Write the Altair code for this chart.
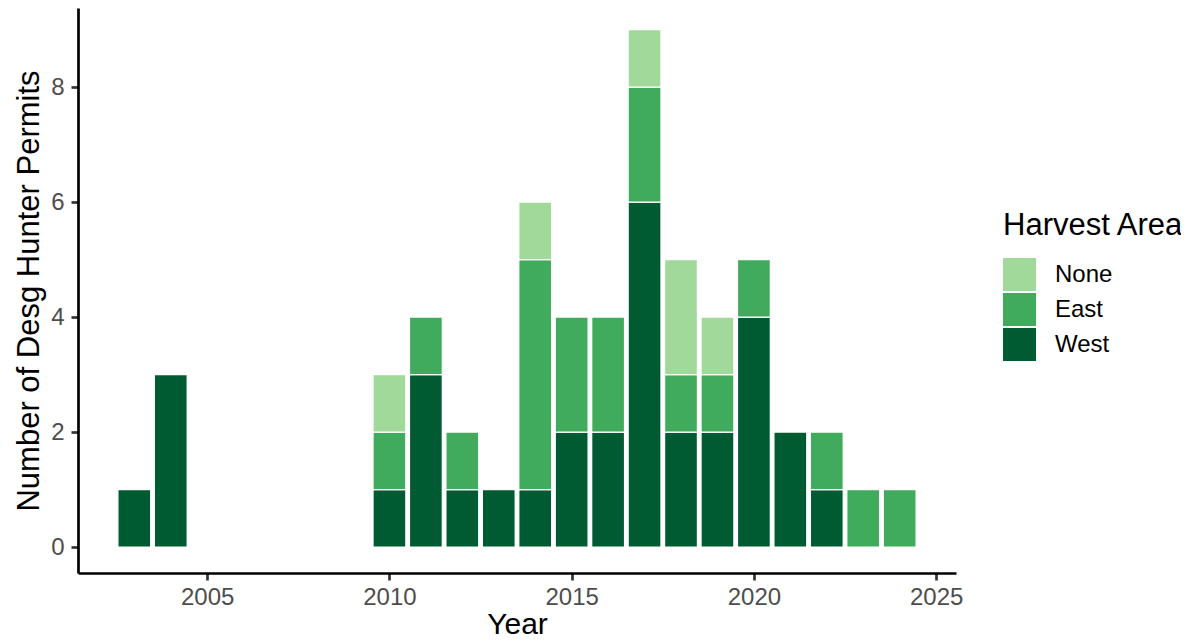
import altair as alt
import pandas as pd

years = [2003, 2004, 2010, 2011, 2012, 2013, 2014, 2015, 2016, 2017, 2018, 2019, 2020, 2021, 2022, 2023, 2024]
west  = [1, 3, 1, 3, 1, 1, 1, 2, 2, 6, 2, 2, 4, 2, 1, 0, 0]
east  = [0, 0, 1, 1, 1, 0, 4, 2, 2, 2, 1, 1, 1, 0, 1, 1, 1]
none_ = [0, 0, 1, 0, 0, 0, 1, 0, 0, 1, 2, 1, 0, 0, 0, 0, 0]

areas = ["None", "East", "West"]
colors = ["#a1d99b", "#41ab5d", "#005a32"]
stack_order = {"West": 0, "East": 1, "None": 2}

rows = []
for i, yr in enumerate(years):
    for area, vals in (("West", west), ("East", east), ("None", none_)):
        if vals[i] > 0:
            rows.append({"year": yr, "area": area, "n": vals[i], "ord": stack_order[area]})
df = pd.DataFrame(rows)

font = "Liberation Sans"

chart = (
    alt.Chart(df)
    .transform_stack(stack="n", groupby=["year"], as_=["y0", "y1"],
                     sort=[alt.SortField("ord", order="ascending")])
    .transform_calculate(x0="datum.year - 0.45", x1="datum.year + 0.45")
    .mark_rect(stroke="white", strokeWidth=1.2)
    .encode(
        x=alt.X("x0:Q", title="Year",
                scale=alt.Scale(domain=[2001.455, 2025.545], nice=False, zero=False),
                axis=alt.Axis(values=[2005, 2010, 2015, 2020, 2025], format="d")),
        x2="x1:Q",
        y=alt.Y("y0:Q", title="Number of Desg Hunter Permits",
                scale=alt.Scale(domain=[-0.45, 9.376], nice=False, zero=False),
                axis=alt.Axis(values=[0, 2, 4, 6, 8])),
        y2="y1:Q",
        color=alt.Color("area:N", title="Harvest Area",
                        scale=alt.Scale(domain=areas, range=colors),
                        legend=alt.Legend(orient="none", legendX=925, legendY=203,
                                          symbolType="square", symbolSize=1089,
                                          symbolStrokeWidth=0, rowPadding=2,
                                          labelOffset=19, titlePadding=16,
                                          titleLimit=400)),
    )
    .properties(
        width=878, height=565,
        autosize=alt.AutoSizeParams(type="none"),
        padding={"left": 70, "top": 0, "right": 225, "bottom": 62},
    )
    .configure_view(stroke=None)
    .configure_axis(
        grid=False, domainColor="black", domainWidth=2.7,
        tickColor="#333333", tickWidth=2.7, tickSize=7,
        labelFont=font, labelFontSize=24, labelColor="#4d4d4d", labelPadding=5,
        titleFont=font, titleFontSize=31, titleFontWeight="normal", titleColor="black",
    )
    .configure_axisX(titlePadding=0, titleFontSize=30, labelFlush=False)
    .configure_axisY(titlePadding=5, labelPadding=7)
    .configure_legend(
        titleFont=font, titleFontSize=31, titleFontWeight="normal", titleColor="black",
        labelFont=font, labelFontSize=24, labelColor="black",
    )
)

chart.save("out.html", embed_options={"renderer": "svg", "actions": False})
